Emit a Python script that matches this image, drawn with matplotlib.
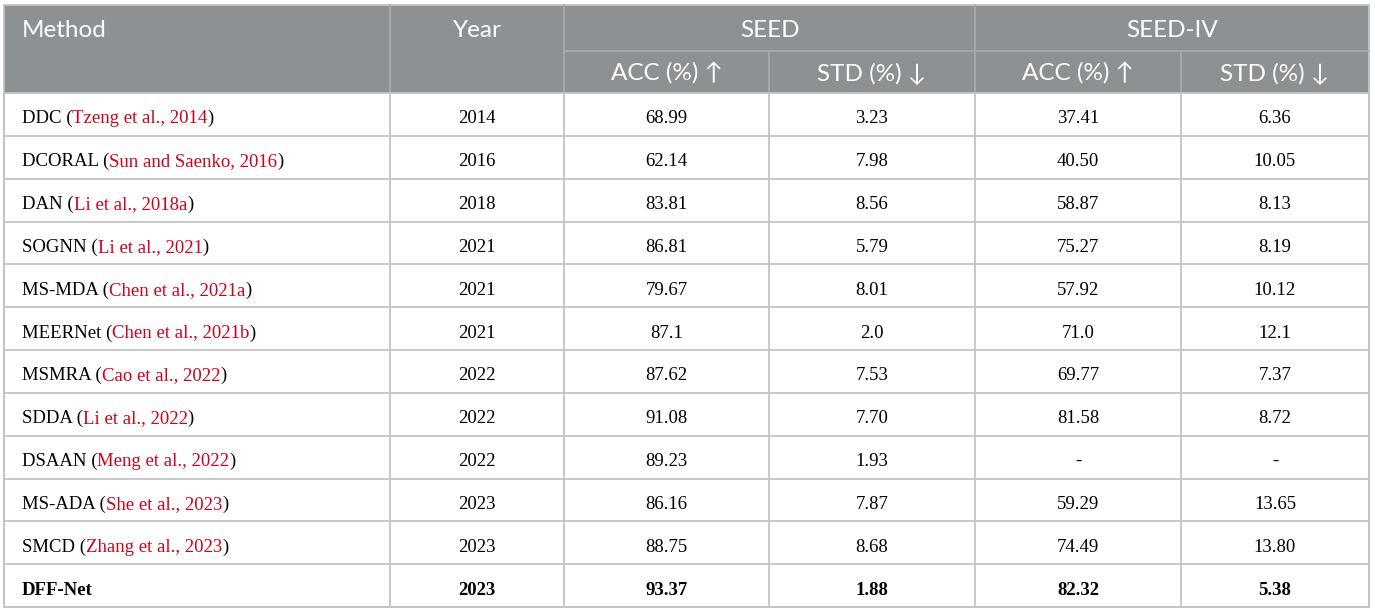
import matplotlib
matplotlib.use("Agg")
import matplotlib.pyplot as plt
from matplotlib.patches import Rectangle

# ---- data ----
methods = ['DDC', 'DCORAL', 'DAN', 'SOGNN', 'MS-MDA', 'MEERNet', 'MSMRA',
           'SDDA', 'DSAAN', 'MS-ADA', 'SMCD', 'DFF-Net']
citations = ['Tzeng et al., 2014', 'Sun and Saenko, 2016', 'Li et al., 2018a',
             'Li et al., 2021', 'Chen et al., 2021a', 'Chen et al., 2021b',
             'Cao et al., 2022', 'Li et al., 2022', 'Meng et al., 2022',
             'She et al., 2023', 'Zhang et al., 2023', None]
years = ['2014', '2016', '2018', '2021', '2021', '2021', '2022', '2022',
         '2022', '2023', '2023', '2023']
seed_acc = ['68.99', '62.14', '83.81', '86.81', '79.67', '87.1', '87.62',
            '91.08', '89.23', '86.16', '88.75', '93.37']
seed_std = ['3.23', '7.98', '8.56', '5.79', '8.01', '2.0', '7.53', '7.70',
            '1.93', '7.87', '8.68', '1.88']
seediv_acc = ['37.41', '40.50', '58.87', '75.27', '57.92', '71.0', '69.77',
              '81.58', '-', '59.29', '74.49', '82.32']
seediv_std = ['6.36', '10.05', '8.13', '8.19', '10.12', '12.1', '7.37',
              '8.72', '-', '13.65', '13.80', '5.38']
header_top = ['Method', 'Year', 'SEED', 'SEED-IV']
header_sub = ['ACC (%) ↑', 'STD (%) ↓', 'ACC (%) ↑', 'STD (%) ↓']
bold_rows = [11]

# ---- layout (pixel space) ----
W, H = 1375, 614
col_edges = [4, 390, 564, 769, 975, 1181, 1369]
top, mid, hdr_bot, bottom = 5, 51, 93, 607
n = len(methods)
row_h = (bottom - hdr_bot) / n

HDR_BG = '#8d9193'
HDR_LINE = '#a8acae'
GRID = '#c4c4c4'
RED = '#d0021b'
SERIF = ['Liberation Serif', 'DejaVu Serif']
SANS = ['Lato', 'DejaVu Sans']

fig = plt.figure(figsize=(W / 100, H / 100), dpi=100)
ax = fig.add_axes([0, 0, 1, 1])
ax.set_xlim(0, W)
ax.set_ylim(H, 0)
ax.axis('off')

# header background
ax.add_patch(Rectangle((col_edges[0], top), col_edges[-1] - col_edges[0],
                       hdr_bot - top, facecolor=HDR_BG, edgecolor='none'))
# header lines
ax.plot([col_edges[2], col_edges[-1]], [mid, mid], color=HDR_LINE, lw=1.2)
for x in col_edges[1:3]:
    ax.plot([x, x], [top, hdr_bot], color=HDR_LINE, lw=1.2)
ax.plot([col_edges[4], col_edges[4]], [top, hdr_bot], color=HDR_LINE, lw=1.2)
for x in [col_edges[3], col_edges[5]]:
    ax.plot([x, x], [mid, hdr_bot], color=HDR_LINE, lw=1.2)

# body grid
for i in range(n + 1):
    y = hdr_bot + i * row_h
    ax.plot([col_edges[0], col_edges[-1]], [y, y], color=GRID, lw=1.3)
for x in col_edges:
    ax.plot([x, x], [hdr_bot, bottom], color=GRID, lw=1.3)
# outer border
ax.add_patch(Rectangle((col_edges[0], top), col_edges[-1] - col_edges[0],
                       bottom - top, facecolor='none', edgecolor=GRID, lw=1.3))

# header text
hfs = 17.5
hw = 'normal'
hy1 = (top + mid) / 2 + 9
hy2 = (mid + hdr_bot) / 2 + 9
ax.text(22, hy1, header_top[0], color='white', fontsize=hfs, weight=hw,
        family=SANS, va='baseline', ha='left')
ax.text((col_edges[1] + col_edges[2]) / 2, hy1, header_top[1], weight=hw,
        color='white', fontsize=hfs, family=SANS, va='baseline', ha='center')
ax.text((col_edges[2] + col_edges[4]) / 2, hy1, header_top[2], weight=hw,
        color='white', fontsize=hfs, family=SANS, va='baseline', ha='center')
ax.text((col_edges[4] + col_edges[6]) / 2, hy1, header_top[3], weight=hw,
        color='white', fontsize=hfs, family=SANS, va='baseline', ha='center')
for j, lab in enumerate(header_sub):
    cx = (col_edges[2 + j] + col_edges[3 + j]) / 2
    ax.text(cx, hy2, lab, color='white', fontsize=hfs, weight=hw,
            family=SANS, va='baseline', ha='center')

# body text
fig.canvas.draw()
renderer = fig.canvas.get_renderer()
bfs = 13.5
cols = [years, seed_acc, seed_std, seediv_acc, seediv_std]
for i in range(n):
    yc = hdr_bot + (i + 0.5) * row_h + 9
    weight = 'bold' if i in bold_rows else 'normal'
    if citations[i] is None:
        pieces = [(methods[i], 'black')]
    else:
        pieces = [(methods[i] + ' (', 'black'), (citations[i], RED), (')', 'black')]
    x = 22
    for txt, colr in pieces:
        t = ax.text(x, yc, txt, color=colr, fontsize=bfs, family=SERIF,
                    weight=weight, va='baseline', ha='left')
        bb = t.get_window_extent(renderer=renderer)
        x += bb.width
    for j, col in enumerate(cols):
        cx = (col_edges[1 + j] + col_edges[2 + j]) / 2
        ax.text(cx, yc, col[i], color='black', fontsize=bfs, family=SERIF,
                weight=weight, va='baseline', ha='center')

fig.savefig('out.png', dpi=100, facecolor='white')
